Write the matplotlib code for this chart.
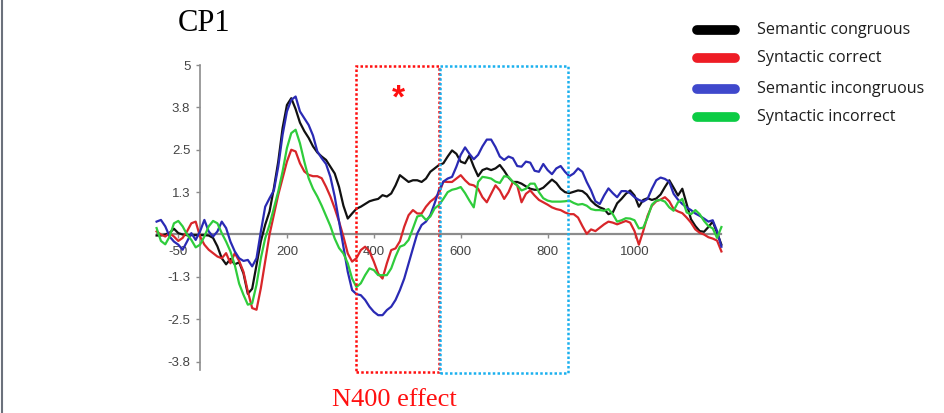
import numpy as np
import matplotlib
matplotlib.use("Agg")
import matplotlib.pyplot as plt
from matplotlib.lines import Line2D

# time axis (ms), one sample every 10 ms
times = np.arange(-100, 1201, 10)

sem_congruous = [
    -0.03, -0.03, 0.0, 0.05, 0.17, 0.04, 0.0, -0.02, -0.02, -0.02,
    -0.02, -0.02, -0.03, -0.1, -0.35, -0.7, -0.88, -0.72, -0.88, -0.82,
    -1.15, -1.75, -1.6, -0.9, -0.2, 0.29, 0.68, 1.37, 2.15, 3.14,
    3.82, 4.02, 3.7, 3.3, 3.05, 2.85, 2.6, 2.42, 2.3, 2.2,
    2.0, 1.8, 1.4, 0.85, 0.47, 0.62, 0.76, 0.82, 0.9, 0.98,
    1.02, 1.05, 1.16, 1.12, 1.21, 1.45, 1.75, 1.65, 1.55, 1.6,
    1.6, 1.55, 1.65, 1.85, 1.95, 2.05, 2.1, 2.3, 2.48, 2.38,
    2.15, 2.1, 2.33, 2.0, 1.72, 1.9, 1.95, 1.9, 1.95, 2.05,
    1.88, 1.68, 1.55, 1.55, 1.5, 1.42, 1.35, 1.32, 1.32, 1.38,
    1.5, 1.62, 1.52, 1.35, 1.25, 1.22, 1.26, 1.3, 1.28, 1.18,
    1.0, 0.88, 0.8, 0.75, 0.6, 0.65, 0.92, 1.05, 1.2, 1.3,
    1.15, 0.82, 1.02, 1.07, 1.02, 1.06, 1.18, 1.4, 1.6, 1.38,
    1.15, 1.35, 0.9, 0.45, 0.25, 0.1, 0.08, 0.22, 0.38, 0.05,
    -0.3]

syn_correct = [
    0.09, 0.0, -0.06, 0.04, -0.06, -0.19, -0.1, 0.09, 0.33, 0.38,
    -0.06, -0.3, -0.45, -0.55, -0.65, -0.7, -0.55, -0.85, -0.55, -0.78,
    -1.1, -1.68, -2.17, -2.22, -1.58, -0.8, 0.0, 0.58, 1.17, 1.66,
    2.15, 2.5, 2.45, 2.1, 1.86, 1.76, 1.72, 1.72, 1.66, 1.41,
    1.12, 0.77, 0.38, -0.06, -0.56, -0.8, -0.7, -0.46, -0.36, -0.5,
    -0.8, -1.15, -1.3, -0.85, -0.46, -0.41, -0.2, 0.23, 0.57, 0.72,
    0.62, 0.62, 0.82, 0.97, 1.07, 1.21, 1.56, 1.55, 1.55, 1.65,
    1.75, 1.6, 1.48, 1.45, 1.35, 1.1, 0.95, 1.2, 1.45, 1.3,
    1.05, 1.25, 1.55, 1.45, 0.95, 1.2, 1.3, 1.15, 1.02, 0.95,
    0.88, 0.8, 0.75, 0.72, 0.65, 0.6, 0.6, 0.5, 0.25, 0.02,
    0.15, 0.1, 0.2, 0.3, 0.38, 0.35, 0.3, 0.35, 0.4, 0.35,
    0.1, -0.3, 0.1, 0.55, 0.85, 0.98, 1.03, 1.1, 0.98, 0.75,
    0.68, 0.63, 0.5, 0.35, 0.15, 0.05, 0.0, -0.08, -0.12, -0.18,
    -0.5]

sem_incongruous = [
    0.38, 0.43, 0.24, -0.06, -0.21, -0.3, -0.45, -0.21, 0.04, -0.16,
    0.09, 0.43, 0.09, -0.06, 0.09, 0.38, 0.19, -0.21, -0.5, -0.7,
    -0.78, -0.75, -0.94, -0.7, 0.09, 0.82, 1.07, 1.3, 2.0, 2.94,
    3.63, 3.97, 4.07, 3.63, 3.43, 3.23, 2.92, 2.45, 2.25, 2.08,
    1.7, 1.12, 0.38, -0.36, -1.1, -1.64, -1.76, -1.79, -1.93, -2.13,
    -2.28, -2.38, -2.38, -2.23, -2.13, -1.93, -1.64, -1.3, -0.85, -0.41,
    0.03, 0.28, 0.38, 0.57, 0.92, 1.31, 1.56, 1.65, 1.7, 2.0,
    2.35, 2.57, 2.38, 2.22, 2.35, 2.6, 2.8, 2.8, 2.58, 2.3,
    2.2, 2.3, 2.25, 2.02, 2.0, 2.15, 2.12, 1.88, 1.85, 2.08,
    1.9, 1.78, 1.95, 2.02, 1.85, 1.72, 1.8, 1.95, 1.85, 1.55,
    1.3, 0.98, 0.9, 1.15, 1.36, 1.22, 1.1, 1.28, 1.28, 1.22,
    1.1, 1.02, 0.97, 1.05, 1.35, 1.6, 1.68, 1.64, 1.55, 1.2,
    1.03, 0.9, 0.8, 0.72, 0.62, 0.55, 0.47, 0.38, 0.42, 0.1,
    -0.36]

syn_incorrect = [
    0.19, -0.19, -0.29, -0.06, 0.33, 0.4, 0.24, 0.0, -0.16, -0.38,
    -0.3, -0.06, 0.24, 0.4, 0.33, 0.04, -0.21, -0.5, -0.9, -1.45,
    -1.78, -2.07, -2.03, -1.48, -0.7, -0.11, 0.29, 0.78, 1.27, 1.86,
    2.55, 2.99, 3.09, 2.69, 2.15, 1.66, 1.35, 1.12, 0.85, 0.55,
    0.25, -0.12, -0.4, -0.56, -0.85, -1.3, -1.55, -1.44, -1.2, -1.0,
    -1.05, -1.2, -1.2, -1.2, -1.0, -0.65, -0.36, -0.31, -0.16, 0.18,
    0.53, 0.57, 0.43, 0.53, 0.77, 0.87, 1.05, 1.25, 1.32, 1.35,
    1.4, 1.22, 1.0, 0.8, 1.55, 1.7, 1.68, 1.65, 1.56, 1.52,
    1.72, 1.7, 1.55, 1.45, 1.3, 1.35, 1.5, 1.5, 1.25, 1.07,
    1.0, 0.97, 0.97, 0.97, 0.98, 1.0, 0.93, 0.88, 0.9, 0.85,
    0.75, 0.72, 0.72, 0.7, 0.75, 0.6, 0.38, 0.42, 0.48, 0.47,
    0.42, 0.18, 0.2, 0.5, 0.88, 1.0, 1.02, 0.97, 0.8, 0.7,
    0.95, 1.05, 0.65, 0.6, 0.72, 0.6, 0.4, 0.25, 0.18, -0.1,
    0.22]

labels = ["Semantic congruous", "Syntactic correct",
          "Semantic incongruous", "Syntactic incorrect"]
series = [sem_congruous, syn_correct, sem_incongruous, syn_incorrect]
colors = ["#111111", "#d8262a", "#2a2ab4", "#2fcc3c"]
legend_colors = ["#000000", "#ee1c25", "#3f48cc", "#0ccc44"]

yticks = [-3.75, -2.5, -1.25, 0, 1.25, 2.5, 3.75, 5]
ytick_labels = ["-3.8", "-2.5", "-1.3", "", "1.3", "2.5", "3.8", "5"]
xticks = [-50, 200, 400, 600, 800, 1000]

n400_win = (360, 550)
late_win = (552, 847)

fig = plt.figure(figsize=(9.45, 4.13), dpi=100)
ax = fig.add_axes([0.1611, 0.1039, 0.6069, 0.7387])
ax.set_xlim(-110, 1210)
ax.set_ylim(-4, 5)

for vals, c in zip(series, colors):
    ax.plot(times, vals, color=c, lw=1.6, solid_joinstyle="round", zorder=3)

# axes crossing at zero, excel style
for s in ["top", "right"]:
    ax.spines[s].set_visible(False)
ax.spines["left"].set_position(("data", 0))
ax.spines["bottom"].set_position(("data", 0))
ax.spines["bottom"].set_bounds(-100, 1200)
ax.spines["left"].set_bounds(-4, 5)
ax.spines["left"].set_color("#8c8c8c")
ax.spines["bottom"].set_color("#8c8c8c")
ax.spines["left"].set_linewidth(1.2)
ax.spines["bottom"].set_linewidth(1.6)

ax.set_yticks(yticks)
ax.set_yticklabels(ytick_labels)
ax.set_xticks(xticks)
ax.set_xticklabels([str(v) for v in xticks])
ax.tick_params(axis="both", colors="#8c8c8c", labelcolor="#444444",
               labelsize=9.5, length=3, width=1)
ax.tick_params(axis="x", pad=5)
ax.tick_params(axis="y", pad=4)
for t in ax.get_xticklabels() + ax.get_yticklabels():
    t.set_fontfamily("Liberation Sans")

# dotted analysis windows
box_kw = dict(fill=False, lw=1.8, linestyle=(0, (1, 0.9)), clip_on=False, zorder=4)
ax.add_patch(plt.Rectangle((n400_win[0], -4.06), n400_win[1] - n400_win[0], 9.03,
                           edgecolor="#ff1010", **box_kw))
ax.add_patch(plt.Rectangle((late_win[0], -4.08), late_win[1] - late_win[0], 9.05,
                           edgecolor="#1ab0ee", **box_kw))
ax.text(456, 4.0, "*", color="#ff1010", fontsize=24, fontweight="bold",
        ha="center", va="center", fontfamily="Liberation Sans")

fig.text(0.417, 0.031, "N400 effect", color="#ff1010", fontsize=19,
         ha="center", va="center", fontfamily="Liberation Serif")
fig.text(0.216, 0.942, "CP1", color="black", fontsize=22,
         ha="center", va="center", fontfamily="Liberation Serif")

# legend drawn by hand to keep the original spacing
row_y = [30, 58, 89, 117]
for lab, c, y in zip(labels, legend_colors, row_y):
    fy = 1 - y / 413
    fig.add_artist(Line2D([697 / 945, 735 / 945], [fy, fy], color=c, lw=7,
                          solid_capstyle="round"))
    fig.text(757 / 945, fy, lab, fontsize=11.6, va="center", ha="left",
             color="#1e1e1e", fontfamily="Open Sans")

# left slide border
fig.add_artist(Line2D([0.002, 0.002], [0, 1], color="#6b717c", lw=1.5))

fig.savefig("out.png", dpi=100, facecolor="white")
